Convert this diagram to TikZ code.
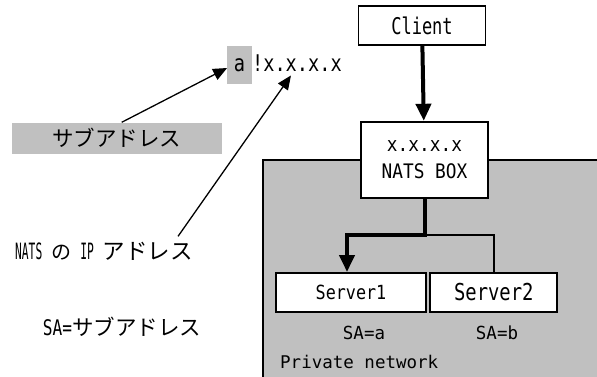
\documentclass[tikz,border=0pt]{standalone}
\usepackage{fontspec}
\setmainfont{DejaVu Sans Mono}
\newfontfamily\jpfont{Noto Sans CJK JP}
\newcommand{\fsz}[1]{\fontsize{#1}{#1}\selectfont}
\newcommand{\cond}[2]{\scalebox{#1}[1]{#2}}
\usetikzlibrary{arrows.meta,positioning}
\definecolor{boxgray}{RGB}{192,192,192}

\begin{document}
\begin{tikzpicture}[x=1pt,y=-1pt,
    box/.style={draw,line width=1.8pt,fill=white,minimum width=127pt,minimum height=39pt,inner sep=0pt},
    lbl/.style={inner sep=0pt},
    pointer/.style={line width=1.3pt,-{Triangle[length=14pt,width=12pt]}},
    route/.style={line width=4pt,-{Triangle[length=17pt,width=15pt]}}]
  \useasboundingbox (0,0) rectangle (597,376);
  \draw[line width=1.8pt,fill=boxgray] (263,160) rectangle (612,392);

  \node[box,font=\fsz{23}] (client) at (422,25.5) {\cond{0.74}{Client}};
  \node[box,minimum height=76pt,align=center,font=\fontsize{20}{27}\selectfont] (nats) at (424.5,159.7) {\cond{0.89}{x.x.x.x}\\\cond{0.89}{NATS BOX}};
  \node[box,minimum width=150pt,font=\fsz{19.5}] (s1) at (351,292.4) {\cond{0.86}{Server1}};
  \node[box,font=\fsz{23.3}] (s2) at (493.8,292.4) {\cond{0.81}{Server2}};
  \node[lbl,font=\fsz{18}] (sa) at (364,333) {\cond{0.97}{SA=a}};
  \node[lbl,font=\fsz{18}] (sb) at (497,333) {\cond{0.97}{SA=b}};
  \node[lbl,anchor=west,font=\fsz{17.5}] (priv) at (280,362) {\cond{1}{Private network}};
  \coordinate (split) at (424.5,235);

  \draw[route] (client) -- (nats);
  \draw[route] (nats.south) -- (split) -| ([xshift=-4pt]s1.north);
  \draw[line width=1.7pt] (split) -| (s2.north);

  \node[fill=boxgray,minimum width=24.4pt,minimum height=38pt,inner sep=0pt,font=\fsz{23}] (subaddr) at (239.5,65) {\cond{0.81}{a}};
  \node[lbl,anchor=base west,font=\fsz{23}] (ipaddr) at (subaddr.base east) {\cond{0.81}{!x.x.x.x}};
  \node[fill=boxgray,minimum width=210pt,minimum height=31pt,inner sep=0pt,font=\jpfont\fsz{21.5}] (sublbl) at (116.7,138) {サブアドレス};
  \node[lbl,anchor=west,font=\fsz{22.5}] (natsip) at (15,251.7) {\cond{0.5}{NATS}\hspace{9pt}{\jpfont\fsz{20}の}\hspace{9pt}\cond{0.5}{IP}\hspace{9pt}{\jpfont アドレス}};
  \node[lbl,anchor=west,font=\fsz{21.5}] (saleg) at (42.7,326.7) {\cond{0.75}{SA=}{\jpfont サブアドレス}};

  \draw[pointer] ([xshift=5pt]sublbl.north) -- ([yshift=-3pt]subaddr.west);
  \draw[pointer] ([xshift=74pt,yshift=6pt]natsip.north) -- ([xshift=-6pt,yshift=-4pt]ipaddr.south);
\end{tikzpicture}
\end{document}
